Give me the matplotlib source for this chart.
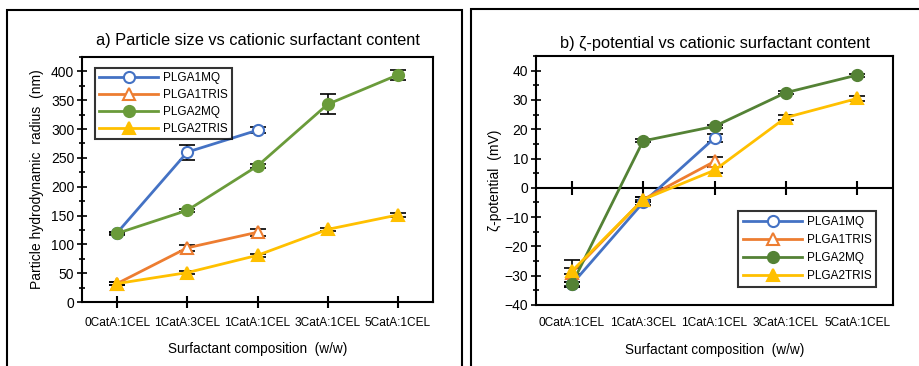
import numpy as np
import matplotlib
matplotlib.use('Agg')
import matplotlib.pyplot as plt
from matplotlib.patches import Rectangle
from matplotlib.ticker import MultipleLocator

plt.rcParams['font.family'] = ['Liberation Sans', 'DejaVu Sans']

categories = ['0CatA:1CEL', '1CatA:3CEL', '1CatA:1CEL', '3CatA:1CEL', '5CatA:1CEL']
series = ['PLGA1MQ', 'PLGA1TRIS', 'PLGA2MQ', 'PLGA2TRIS']

# hydrodynamic radius (nm) and std
size_plga1mq = [120, 260, 298]
size_plga1mq_err = [2, 13, 5]
size_plga1tris = [32, 94, 121]
size_plga1tris_err = [2, 5, 6]
size_plga2mq = [119, 159, 236, 343, 394]
size_plga2mq_err = [3, 3, 3, 17, 9]
size_plga2tris = [32, 51, 81, 126, 151]
size_plga2tris_err = [2, 3, 3, 3, 3]

# zeta potential (mV) and std
zeta_plga1mq = [-33, -5, 17]
zeta_plga1mq_err = [1, 1, 1.5]
zeta_plga1tris = [-29, -4, 9]
zeta_plga1tris_err = [4.5, 1, 1.5]
zeta_plga2mq = [-33, 16, 21, 32.5, 38.5]
zeta_plga2mq_err = [1, 0.5, 0.5, 0.5, 0.5]
zeta_plga2tris = [-28.5, -4, 6, 24, 30.5]
zeta_plga2tris_err = [1, 1, 1, 1, 0.8]

BLUE = '#4472C4'
ORANGE = '#ED7D31'
YELLOW = '#FFC000'


def draw_series(ax, y, err, color, marker, filled, label):
    x = np.arange(len(y))
    ax.errorbar(x, y, yerr=err, fmt='none', ecolor='black', elinewidth=1.2,
                capsize=6, capthick=1.2, zorder=2)
    ax.plot(x, y, color=color, lw=2, marker=marker, ms=8 if marker == 'o' else 9,
            markerfacecolor=color if filled else 'white', markeredgecolor=color,
            markeredgewidth=1.5, label=label, zorder=3)


def style_axes(ax):
    for s in ax.spines.values():
        s.set_linewidth(1.5)
        s.set_color('black')
    ax.set_xlim(-0.5, 4.5)
    ax.set_xticks(range(len(categories)))
    ax.set_xticklabels(categories, fontsize=8.6)
    ax.tick_params(axis='y', which='major', direction='inout', length=7, width=1.2,
                   labelsize=10, pad=2)
    ax.tick_params(axis='y', which='minor', direction='inout', length=5, width=1.2)
    ax.set_xlabel('Surfactant composition  (w/w)', fontsize=9.8, labelpad=10)


def style_legend(leg):
    leg.get_frame().set_edgecolor('black')
    leg.get_frame().set_linewidth(1.5)


fig = plt.figure(figsize=(9.19, 3.66), dpi=100)

# panel frames
fig.patches.append(Rectangle((7 / 919, -0.05), 455 / 919, 0.05 + 356 / 366,
                             transform=fig.transFigure, fill=False, lw=1.5,
                             edgecolor='black'))
fig.patches.append(Rectangle((471 / 919, -0.05), 455 / 919, 0.05 + 357 / 366,
                             transform=fig.transFigure, fill=False, lw=1.5,
                             edgecolor='black'))

# a) particle size
ax1 = fig.add_axes([82 / 919, 64 / 366, 351 / 919, 245 / 366])
green1 = '#6A9B3A'
draw_series(ax1, size_plga1mq, size_plga1mq_err, BLUE, 'o', False, series[0])
draw_series(ax1, size_plga1tris, size_plga1tris_err, ORANGE, '^', False, series[1])
draw_series(ax1, size_plga2mq, size_plga2mq_err, green1, 'o', True, series[2])
draw_series(ax1, size_plga2tris, size_plga2tris_err, YELLOW, '^', True, series[3])
style_axes(ax1)
ax1.set_ylim(0, 425)
ax1.yaxis.set_major_locator(MultipleLocator(50))
ax1.yaxis.set_minor_locator(MultipleLocator(25))
ax1.tick_params(axis='x', direction='inout', length=9, width=1.5, pad=6)
ax1.set_ylabel('Particle hydrodynamic  radius  (nm)', fontsize=10, labelpad=5)
ax1.set_title('a) Particle size vs cationic surfactant content', fontsize=11.8, pad=9)
leg1 = ax1.legend(loc='upper left', bbox_to_anchor=(0.02, 0.98), fontsize=8.5,
                  handlelength=5.0, frameon=True, fancybox=False, borderpad=0.35,
                  labelspacing=0.42, handletextpad=0.4)
style_legend(leg1)

# b) zeta potential
ax2 = fig.add_axes([536 / 919, 61 / 366, 357 / 919, 249 / 366])
green2 = '#548235'
draw_series(ax2, zeta_plga1mq, zeta_plga1mq_err, BLUE, 'o', False, series[0])
draw_series(ax2, zeta_plga1tris, zeta_plga1tris_err, ORANGE, '^', False, series[1])
draw_series(ax2, zeta_plga2mq, zeta_plga2mq_err, green2, 'o', True, series[2])
draw_series(ax2, zeta_plga2tris, zeta_plga2tris_err, YELLOW, '^', True, series[3])
style_axes(ax2)
ax2.set_ylim(-40, 45)
ax2.yaxis.set_major_locator(MultipleLocator(10))
ax2.yaxis.set_minor_locator(MultipleLocator(5))
ax2.tick_params(axis='x', length=0, pad=9)
ax2.axhline(0, color='black', lw=1.5, zorder=1)
ax2.plot(range(len(categories)), np.zeros(len(categories)), '|', color='black',
         ms=10, mew=1.5, zorder=1)
ax2.set_ylabel('ζ-potential  (mV)', fontsize=10, labelpad=2)
ax2.set_title('b) ζ-potential vs cationic surfactant content', fontsize=11.8, pad=6)
leg2 = ax2.legend(loc='lower right', bbox_to_anchor=(0.97, 0.05), fontsize=8.5,
                  handlelength=5.0, frameon=True, fancybox=False, borderpad=0.4,
                  labelspacing=0.5, handletextpad=0.4)
style_legend(leg2)

fig.savefig('out.png', dpi=100)
